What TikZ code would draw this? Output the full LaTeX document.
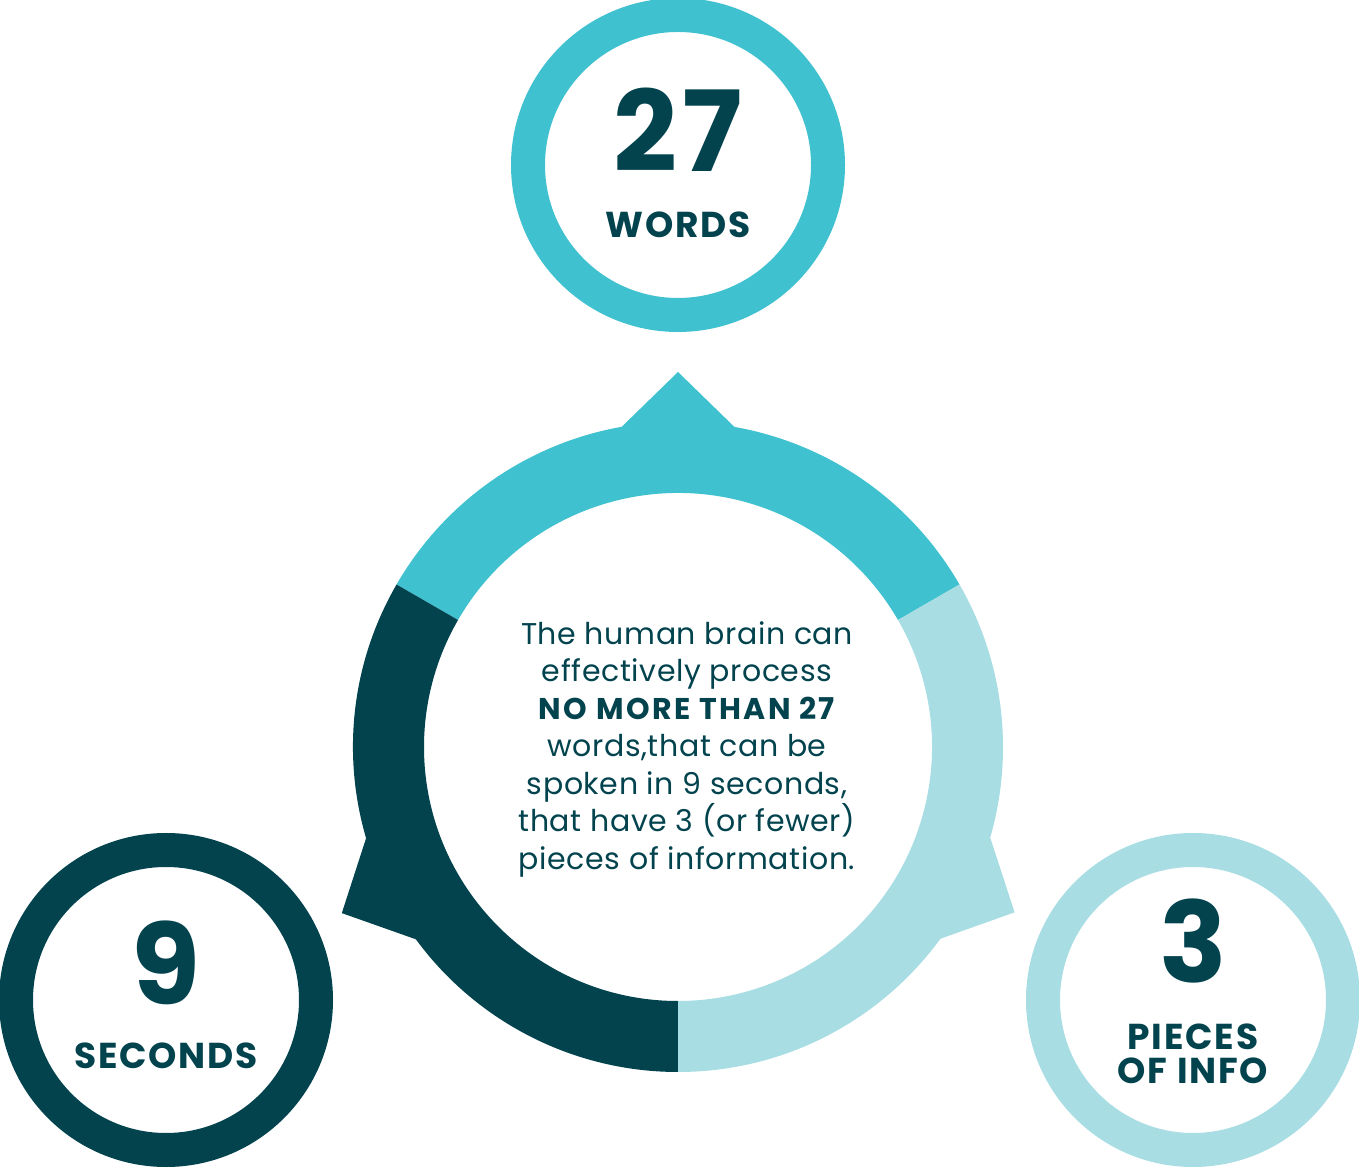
\documentclass[tikz,border=0pt]{standalone}
\usepackage{fontspec}
\setmainfont{Poppins}
\usepackage{xcolor}
\definecolor{cTeal} {HTML}{3FC1D0}
\definecolor{cLight}{HTML}{A8DDE3}
\definecolor{cDark} {HTML}{02434E}
\usepackage{tikz}
\usetikzlibrary{calc, positioning}
\tikzset{
  stat/.style  = {circle, draw=#1, line width=34pt, fill=white,
                  minimum size=300pt, inner sep=0pt},
  big/.style   = {font=\fontsize{112}{112}\selectfont\bfseries
                  \addfontfeature{LetterSpace=4},
                  text=cDark, inner sep=0pt, anchor=base},
  unit/.style  = {font=\fontsize{36}{34}\selectfont\bfseries
                  \addfontfeature{LetterSpace=5},
                  text=cDark, inner sep=0pt, anchor=base, align=center},
}

\begin{document}
\begin{tikzpicture}[
  x=1pt, y=1pt,
  seg/.style={fill=#1},
]
  \useasboundingbox (0,0) rectangle (1359,1167);
  \coordinate (ring) at (678,420);

  %% Outer stat circles
  \node[stat=cTeal]  (words) at (678,1002) {};
  \node[stat=cDark]  (secs)  at (166,167)  {};
  \node[stat=cLight] (info)  at (1193,167) {};

  %% Pointers toward each circle
  \fill[cTeal]  ($(ring)!375pt!(words)$) -- ($(ring)!325pt!10:(words)$)
        -- ($(ring)!325pt!-10:(words)$) -- cycle;
  \fill[cDark]  ($(ring)!375pt!(secs)$) -- ($(ring)!325pt!10:(secs)$)
        -- ($(ring)!325pt!-10:(secs)$) -- cycle;
  \fill[cLight] ($(ring)!375pt!(info)$) -- ($(ring)!325pt!10:(info)$)
        -- ($(ring)!325pt!-10:(info)$) -- cycle;

  %% Ring segments
  \fill[seg=cTeal]  ($(ring)+(30:325)$) arc[start angle=30, end angle=150, radius=325]
        -- ($(ring)+(150:254)$) arc[start angle=150, end angle=30, radius=254] -- cycle;
  \fill[seg=cDark]  ($(ring)+(150:325)$) arc[start angle=150, end angle=270, radius=325]
        -- ($(ring)+(270:254)$) arc[start angle=270, end angle=150, radius=254] -- cycle;
  \fill[seg=cLight] ($(ring)+(270:325)$) arc[start angle=270, end angle=390, radius=325]
        -- ($(ring)+(30:254)$) arc[start angle=390, end angle=270, radius=254] -- cycle;

  %% Numbers and units
  \node[big]  (n27) at (678,995) {27};
  \node[unit] (u27) at (678,929) {WORDS};
  \node[big]  (n9)  at (166,162) {9};
  \node[unit] (u9)  at (166,99)  {SECONDS};
  \node[big]  (n3)  at (1193,184) {3};
  \node[unit] (u3)  at (1193,84) {PIECES\\OF INFO};

  %% Centre message
  \node[font=\fontsize{30}{37.5}\selectfont\addfontfeature{LetterSpace=2},
        text=cDark, align=center]
        (msg) at (687,418)
        {The human brain can\\ effectively process\\
         {\bfseries\addfontfeature{LetterSpace=8}NO MORE THAN 27}\\
         words,that can be\\
         spoken in 9 seconds,\\ that have 3 (or fewer)\\
         pieces of information.};
\end{tikzpicture}
\end{document}
